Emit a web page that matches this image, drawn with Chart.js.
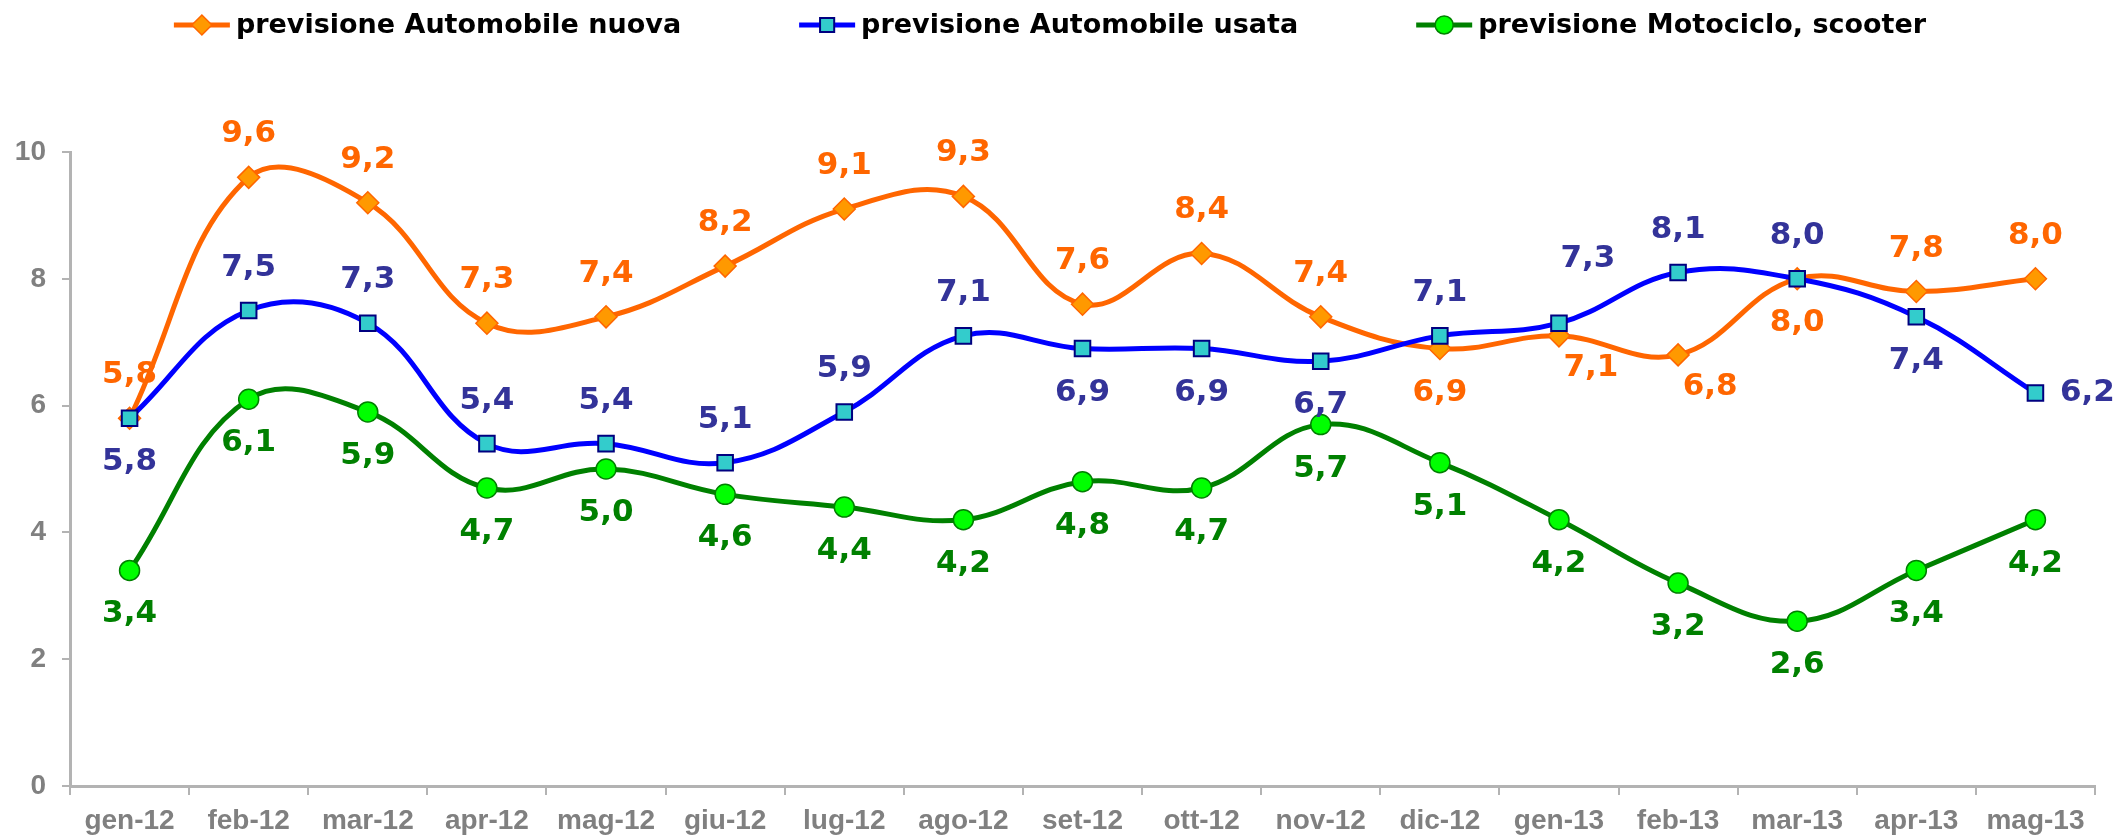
<!DOCTYPE html>
<html>
<head>
<meta charset="utf-8">
<script src="https://cdn.jsdelivr.net/npm/chart.js@4"></script>
<style>
  html, body { margin: 0; padding: 0; background: #fff; }
</style>
</head>
<body>
<canvas id="grafico" width="2124" height="840"></canvas>
<script>
const mesi = ['gen-12', 'feb-12', 'mar-12', 'apr-12', 'mag-12', 'giu-12', 'lug-12', 'ago-12', 'set-12',
              'ott-12', 'nov-12', 'dic-12', 'gen-13', 'feb-13', 'mar-13', 'apr-13', 'mag-13'];
const autoNuova = [5.8, 9.6, 9.2, 7.3, 7.4, 8.2, 9.1, 9.3, 7.6, 8.4, 7.4, 6.9, 7.1, 6.8, 8.0, 7.8, 8.0];
const autoUsata = [5.8, 7.5, 7.3, 5.4, 5.4, 5.1, 5.9, 7.1, 6.9, 6.9, 6.7, 7.1, 7.3, 8.1, 8.0, 7.4, 6.2];
const moto      = [3.4, 6.1, 5.9, 4.7, 5.0, 4.6, 4.4, 4.2, 4.8, 4.7, 5.7, 5.1, 4.2, 3.2, 2.6, 3.4, 4.2];
const nomi = ['previsione Automobile nuova', 'previsione Automobile usata', 'previsione Motociclo, scooter'];

// dove sta l'etichetta rispetto al punto: a = sopra, b = sotto, r = destra, ar/br = in diagonale
const posNuova = ['a','a','a','a','a','a','a','a','a','a','a','b','br','br','b','a','a'];
const posUsata = ['b','a','a','a','a','a','a','a','b','b','b','a','ar','a','a','b','r'];
const posMoto  = ['b','b','b','b','b','b','b','b','b','b','b','b','b','b','b','b','b'];

const spostamenti = { a: [0, -43], b: [0, 44], r: [52, 0], ar: [29, -64], br: [32, 32] };

const etichette = {
  id: 'etichette',
  afterDatasetsDraw(chart) {
    const ctx = chart.ctx;
    ctx.save();
    ctx.font = 'bold 31px "DejaVu Sans"';
    ctx.textAlign = 'center';
    ctx.textBaseline = 'middle';
    chart.data.datasets.forEach((ds, i) => {
      ctx.fillStyle = ds.coloreEtichetta;
      chart.getDatasetMeta(i).data.forEach((pt, j) => {
        const d = spostamenti[ds.posEtichetta[j]];
        ctx.fillText(ds.data[j].toFixed(1).replace('.', ','), pt.x + d[0], pt.y + d[1]);
      });
    });
    ctx.restore();
  }
};

// legenda con linea + marcatore, come in Excel
const legenda = {
  id: 'legenda',
  afterDraw(chart) {
    const ctx = chart.ctx;
    const y = 25, spazio = 118, lunghezza = 56, centro = 1050;
    ctx.save();
    ctx.font = 'bold 27px "DejaVu Sans"';
    const voci = chart.data.datasets.map(ds => ({ ds, w: lunghezza + 6 + ctx.measureText(ds.label).width }));
    const totale = voci.reduce((s, v) => s + v.w, 0) + spazio * (voci.length - 1);
    let x = centro - totale / 2;
    voci.forEach(v => {
      const ds = v.ds;
      ctx.strokeStyle = ds.borderColor;
      ctx.lineWidth = 5;
      ctx.beginPath();
      ctx.moveTo(x, y);
      ctx.lineTo(x + lunghezza, y);
      ctx.stroke();
      ctx.fillStyle = ds.pointBackgroundColor;
      ctx.strokeStyle = ds.pointBorderColor;
      ctx.lineWidth = ds.pointBorderWidth;
      Chart.helpers.drawPoint(ctx, { pointStyle: ds.pointStyle, radius: ds.pointRadius - 1, borderWidth: ds.pointBorderWidth }, x + lunghezza / 2, y);
      ctx.fillStyle = '#000';
      ctx.textAlign = 'left';
      ctx.textBaseline = 'middle';
      ctx.fillText(ds.label, x + lunghezza + 6, y + 1);
      x += v.w + spazio;
    });
    ctx.restore();
  }
};

const fontAssi = { family: '"Liberation Sans", Arial, sans-serif', size: 28, weight: 'bold' };

new Chart(document.getElementById('grafico'), {
  type: 'line',
  data: {
    labels: mesi,
    datasets: [
      {
        label: nomi[0], data: autoNuova, order: 2,
        borderColor: '#FF6600', borderWidth: 5, tension: 0.4,
        pointStyle: 'rectRot', pointRadius: 11, pointBackgroundColor: '#FF9900',
        pointBorderColor: '#FF6600', pointBorderWidth: 1.5,
        coloreEtichetta: '#FF6600', posEtichetta: posNuova
      },
      {
        label: nomi[1], data: autoUsata, order: 1,
        borderColor: '#0000FF', borderWidth: 5, tension: 0.4,
        pointStyle: 'rect', pointRadius: 11, pointBackgroundColor: '#33CCCC',
        pointBorderColor: '#000080', pointBorderWidth: 2,
        coloreEtichetta: '#333399', posEtichetta: posUsata
      },
      {
        label: nomi[2], data: moto, order: 0,
        borderColor: '#008000', borderWidth: 5, tension: 0.4,
        pointStyle: 'circle', pointRadius: 10, pointBackgroundColor: '#00FF00',
        pointBorderColor: '#008000', pointBorderWidth: 1.5,
        coloreEtichetta: '#008000', posEtichetta: posMoto
      }
    ]
  },
  options: {
    responsive: false,
    animation: false,
    layout: { padding: { top: 152, right: 29, left: 0, bottom: 0 } },
    plugins: { legend: { display: false }, tooltip: { enabled: false } },
    scales: {
      x: {
        offset: true,
        grid: { offset: true, drawOnChartArea: false, tickLength: 9, color: '#b3b3b3', lineWidth: 2 },
        border: { color: '#b3b3b3', width: 3 },
        ticks: { color: '#808080', font: fontAssi, padding: 9, maxRotation: 0, autoSkip: false },
        afterFit(s) { s.height = 54; }
      },
      y: {
        min: 0, max: 10,
        grid: { drawOnChartArea: false, tickLength: 8, color: '#b3b3b3', lineWidth: 2 },
        border: { color: '#b3b3b3', width: 3 },
        ticks: { stepSize: 2, color: '#808080', font: fontAssi, padding: 16 },
        afterFit(s) { s.width = 70; }
      }
    }
  },
  plugins: [etichette, legenda]
});
</script>
</body>
</html>
